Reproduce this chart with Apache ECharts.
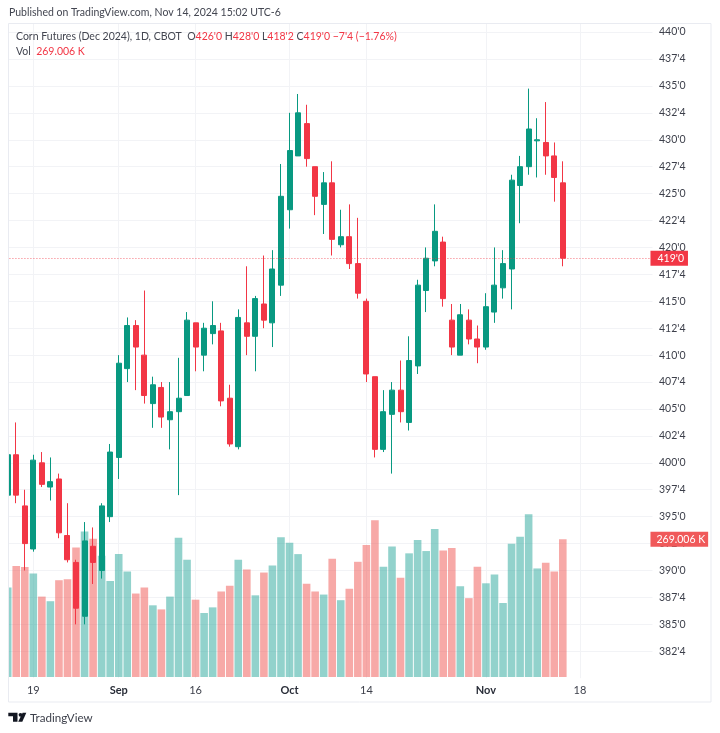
<!DOCTYPE html>
<html>
<head>
<meta charset="utf-8">
<style>
html,body{margin:0;padding:0;background:#fff;}
#main{width:720px;height:733px;}
</style>
<script src="https://cdn.jsdelivr.net/npm/echarts@6/dist/echarts.min.js"></script>
</head>
<body>
<div id="main"></div>
<script>
// trading days, then the empty days up to the right edge of the pane
let dates = ['Aug 14','Aug 15','Aug 16','Aug 19','Aug 20','Aug 21','Aug 22','Aug 23','Aug 26','Aug 27','Aug 28','Aug 29','Aug 30',
    'Sep 3','Sep 4','Sep 5','Sep 6','Sep 9','Sep 10','Sep 11','Sep 12','Sep 13','Sep 16','Sep 17','Sep 18','Sep 19','Sep 20','Sep 23','Sep 24','Sep 25','Sep 26','Sep 27','Sep 30',
    'Oct 1','Oct 2','Oct 3','Oct 4','Oct 7','Oct 8','Oct 9','Oct 10','Oct 11','Oct 14','Oct 15','Oct 16','Oct 17','Oct 18','Oct 21','Oct 22','Oct 23','Oct 24','Oct 25','Oct 28','Oct 29','Oct 30','Oct 31',
    'Nov 1','Nov 4','Nov 5','Nov 6','Nov 7','Nov 8','Nov 11','Nov 12','Nov 13','Nov 14','Nov 15','Nov 18','Nov 19','Nov 20','Nov 21','Nov 22','Nov 25','Nov 26','Nov 27','Nov 29'];

let opens = [397,400.75,396,392,400,397.75,398.5,393.25,390.75,385.75,392.25,390,395,
    400.5,408.75,412.75,410,405.5,407,404,404.75,406.25,413,410,412,412.25,406,401.5,413,411.75,414.75,413,
    416.5,423.5,428.5,431.5,427.5,424,426,420.25,421,418.5,415,408,401.25,404.5,406.75,403.75,409,416,418.75,420.5,413.25,410,413.25,411.5,
    410.75,414,416.25,418,425.75,427.5,429.9,429.75,428.5,426];
let closes = [400.75,397,392.5,400.25,398,398.25,393.5,391,386.5,392.75,390.75,396,401,
    409.25,412.75,410.75,406.25,407.25,404.25,404.75,406,413.25,410.75,412.5,412.75,405.75,401.75,413.5,411.75,415.25,413.25,418,
    424.75,429,432.5,428.25,424.75,426,420.75,421,418.5,415.75,408.25,401.25,404.75,406.75,404.75,409.5,416.5,419,421.5,415.25,410.75,413.75,411.5,410.75,
    414.5,416.5,418.5,426.25,427.5,431,430,428.5,426.5,419];
let lows = [396.75,396.25,390,391.75,397.75,396.5,393,390.75,385,385,388.75,389.25,394.5,
    398.5,407.5,406.75,405.5,403.25,403.25,401.25,397,406.25,408.5,408.5,411,405.25,401.5,401.25,410,408.5,412.5,410.75,
    415.5,421.75,428.5,427.5,423,421.25,419.25,420,418,415.25,407.5,400.5,401,399,403.75,403,408.25,414,418.25,414.5,410,410,411,409.25,
    410.5,413,415.25,414.25,422.25,426.75,426.5,426.75,424.25,418.25];
let highs = [401,403.75,397.5,400.75,401,400.5,399,396.25,391,394.5,394,396.25,401.75,
    410,413.5,413.25,416,408,407.5,407.5,409.75,414,413,413,415,413,407.25,414.25,418.25,415.5,419.25,419.75,
    427.75,432.5,434.25,433.25,427.5,427,428,423.5,424,422.75,415.25,408,406.75,407.5,409.5,411.75,417,420,424,421,414.75,414.75,414.25,412.75,
    415.75,420,419.75,426.75,428.5,434.75,432,433.5,429.75,428];
// volume in thousands
let volumes = [175,217,215,202,157,148,189,191,253,284,270,237,187.5,
    240,206,163,175,140,132,157,272,229,151,125,136,167,178,229,210,159.5,204,218,
    273,262,240,182,167,161,231,150,172.5,225,258,306,215.5,255,194,241.5,267.5,246,289,247,252,177,154,215.5,
    183,200,144.5,260,274,318,212,223,206,269.006];

let priceTicks = [382.5,385,387.5,390,392.5,395,397.5,400,402.5,405,407.5,410,412.5,415,417.5,420,422.5,425,427.5,430,432.5,435,437.5,440];
let priceLabels = ["382'4","385'0","387'4","390'0","392'4","395'0","397'4","400'0","402'4","405'0","407'4","410'0","412'4","415'0","417'4","420'0","422'4","425'0","427'4","430'0","432'4","435'0","437'4","440'0"];
let tickDates = ['Aug 19','Sep 3','Sep 16','Oct 1','Oct 14','Nov 1','Nov 18'];
let tickTexts = ['19','Sep','16','Oct','14','Nov','18'];
let monthTicks = ['Sep','Oct','Nov'];

const UP = '#089981';
const DOWN = '#F23645';
const GRID = '#F2F3F6';
const FRAME = '#E9EBF1';
const TEXT = '#3c3f4a';
const FONT = 'Lato, sans-serif';

let myChart = echarts.init(document.getElementById('main'));

let volumeData = volumes.map((v,i)=>({
    value:v,
    itemStyle:{color: closes[i]>=opens[i] ? 'rgba(38,166,154,0.5)' : 'rgba(239,83,80,0.5)'}
}));

let onTick = (i,name)=>tickDates.indexOf(name)>=0;

myChart.setOption({
    animation:false,
    backgroundColor:'#fff',
    textStyle:{fontFamily:FONT},
    grid:[
        {left:3.43,width:649.04,top:24,height:654.2},
        {left:3.43,width:649.04,top:477,height:200}
    ],
    xAxis:[
        {
            type:'category',
            data:dates,
            axisLine:{show:false},
            axisTick:{show:false,interval:onTick,alignWithLabel:true},
            splitLine:{show:true,interval:onTick,alignWithLabel:true,lineStyle:{color:GRID,width:1}},
            axisLabel:{
                interval:onTick,
                margin:7,
                fontSize:11,
                color:TEXT,
                fontFamily:FONT,
                formatter:(name)=>{
                    let t = tickTexts[tickDates.indexOf(name)];
                    return monthTicks.indexOf(t)>=0 ? '{b|'+t+'}' : t;
                },
                rich:{b:{fontWeight:'bold',fontSize:11,color:'#2a2e39',fontFamily:FONT}}
            }
        },
        {
            type:'category',
            gridIndex:1,
            data:dates,
            show:false
        }
    ],
    yAxis:[
        {
            type:'value',
            position:'right',
            min:380,
            max:440.75,
            interval:2.5,
            axisLine:{show:false},
            axisTick:{show:false},
            splitLine:{show:true,showMinLine:false,showMaxLine:false,lineStyle:{color:GRID,width:1}},
            axisLabel:{
                margin:6.5,
                fontSize:10.5,
                color:TEXT,
                fontFamily:FONT,
                formatter:(v)=>{
                    let i = priceTicks.indexOf(v);
                    return i>=0 ? priceLabels[i] : '';
                }
            }
        },
        {
            type:'value',
            gridIndex:1,
            min:0,
            max:390.6,
            show:false
        }
    ],
    series:[
        {
            name:'Vol',
            type:'bar',
            xAxisIndex:1,
            yAxisIndex:1,
            barWidth:7.6,
            z:3,
            data:volumeData,
            markLine:{
                silent:true,
                symbol:'none',
                z:20,
                lineStyle:{color:'rgba(0,0,0,0)'},
                label:{
                    position:'end',
                    distance:-2,
                    formatter:'269.006 K',
                    color:'#fff',
                    fontSize:10.5,
                    fontFamily:FONT,
                    backgroundColor:'#F0595A',
                    padding:[2,3,2,6]
                },
                data:[{yAxis:volumes[volumes.length-1]}]
            }
        },
        {
            name:'Corn Futures',
            type:'candlestick',
            barWidth:5.5,
            z:4,
            itemStyle:{color:UP,color0:DOWN,borderColor:UP,borderColor0:DOWN,borderWidth:1},
            data:opens.map((o,i)=>[o,closes[i],lows[i],highs[i]]),
            markLine:{
                silent:true,
                symbol:'none',
                z:20,
                lineStyle:{color:'rgba(242,54,69,0.7)',type:[1,2],width:1},
                label:{
                    position:'end',
                    distance:-2,
                    formatter:"419'0",
                    color:'#fff',
                    fontSize:10.5,
                    fontFamily:FONT,
                    backgroundColor:DOWN,
                    padding:[2,4,2,7]
                },
                data:[{yAxis:closes[closes.length-1]}]
            }
        }
    ],
    graphic:[
        // keeps the first candle inside the pane frame
        {type:'rect',z:50,shape:{x:0,y:24,width:8.5,height:680},style:{fill:'#fff'}},
        {type:'rect',z:51,shape:{x:8.5,y:23.5,width:702.5,height:678.5},style:{fill:'none',stroke:FRAME,lineWidth:1}},
        {type:'text',z:52,x:9,y:7,style:{text:'Published on TradingView.com, Nov 14, 2024 15:02 UTC-6',fill:'#434651',font:'10.5px '+FONT}},
        {type:'text',z:52,x:16,y:31,style:{
            text:"Corn Futures (Dec 2024), 1D, CBOT  O{r|426'0} H{r|428'0} L{r|418'2} C{r|419'0} {r|\u22127'4 (\u22121.76%)}",
            fill:'#434651',font:'10.5px '+FONT,
            rich:{r:{fill:DOWN,font:'10.5px '+FONT}}
        }},
        {type:'text',z:52,x:16,y:46,style:{
            text:'Vol  {r|269.006 K}',
            fill:'#434651',font:'10.5px '+FONT,
            rich:{r:{fill:DOWN,font:'10.5px '+FONT}}
        }},
        {type:'polygon',z:52,shape:{points:[[8.3,712.8],[17.5,712.8],[17.5,721.8],[13,721.8],[13,716.2],[8.3,716.2]]},style:{fill:'#131722'}},
        {type:'circle',z:52,shape:{cx:20.5,cy:714.8,r:1.9},style:{fill:'#131722'}},
        {type:'polygon',z:52,shape:{points:[[22.6,712.8],[26.3,712.8],[22.3,721.8],[18.2,721.8]]},style:{fill:'#131722'}},
        {type:'text',z:52,x:30,y:712,style:{text:'TradingView',fill:'#3c3f4a',font:'11.6px '+FONT}}
    ]
});
</script>
</body>
</html>
